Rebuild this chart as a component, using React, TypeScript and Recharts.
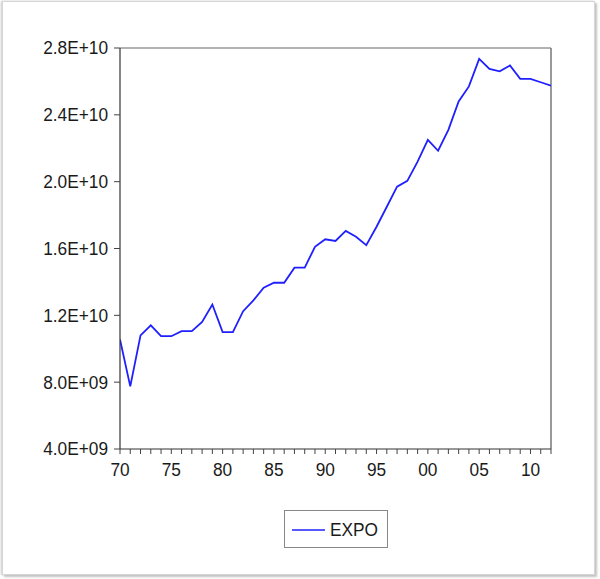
import React from "react";
import { LineChart, Line, XAxis, YAxis, ReferenceLine } from "recharts";

const years: number[] = [
  1970, 1971, 1972, 1973, 1974, 1975, 1976, 1977, 1978, 1979,
  1980, 1981, 1982, 1983, 1984, 1985, 1986, 1987, 1988, 1989,
  1990, 1991, 1992, 1993, 1994, 1995, 1996, 1997, 1998, 1999,
  2000, 2001, 2002, 2003, 2004, 2005, 2006, 2007, 2008, 2009,
  2010, 2011, 2012,
];

// EXPO, in units of 1e9
const expoBillions: number[] = [
  10.55, 7.75, 10.8, 11.4, 10.75, 10.75, 11.05, 11.05, 11.6, 12.65,
  11.0, 11.0, 12.25, 12.9, 13.65, 13.95, 13.95, 14.85, 14.85, 16.1,
  16.55, 16.45, 17.05, 16.7, 16.2, 17.3, 18.5, 19.7, 20.05, 21.2,
  22.5, 21.85, 23.1, 24.8, 25.7, 27.35, 26.75, 26.6, 26.95, 26.15,
  26.15, 25.95, 25.75,
];

const yTicks: number[] = [4e9, 8e9, 1.2e10, 1.6e10, 2.0e10, 2.4e10, 2.8e10];
const xTicks: number[] = years;
const xLabelYears: number[] = [1970, 1975, 1980, 1985, 1990, 1995, 2000, 2005, 2010];

const data = years.map((y, i) => ({ year: y, EXPO: expoBillions[i] * 1e9 }));

const FONT = "'Liberation Sans', Arial, Helvetica, sans-serif";
const SX = 0.96;

function fmtExp(v: number): string {
  const e = Math.floor(Math.log10(v) + 1e-9);
  const m = v / Math.pow(10, e);
  const es = e < 10 ? "0" + e : String(e);
  return m.toFixed(1) + "E+" + es;
}

const YTick = (props: any) => {
  const { x, y, payload } = props;
  const tx = x - 4;
  return (
    <g transform={`translate(${tx},${y}) scale(${SX},1)`}>
      <text x={0} y={0} dy="0.36em" textAnchor="end" fontSize={18} fontFamily={FONT} fill="#1a1a1a">
        {fmtExp(payload.value)}
      </text>
    </g>
  );
};

const XTick = (props: any) => {
  const { x, y, payload } = props;
  const v: number = payload.value;
  if (xLabelYears.indexOf(v) < 0) return <g />;
  const label = String(v % 100).padStart(2, "0");
  return (
    <g transform={`translate(${x},${y}) scale(${SX},1)`}>
      <text x={0} y={0} dy={20} textAnchor="middle" fontSize={18} fontFamily={FONT} fill="#1a1a1a">
        {label}
      </text>
    </g>
  );
};

export default function App() {
  return (
    <div style={{ position: "absolute", left: 0, top: 0, width: 600, height: 579, background: "#fff", overflow: "hidden" }}>
      <div
        style={{
          position: "absolute",
          left: 2,
          top: 1,
          width: 593,
          height: 574,
          border: "1px solid #d6d6d6",
          boxShadow: "2px 2px 2px #c4c4c4, -1px 0 2px #c8c8c8",
          boxSizing: "border-box",
        }}
      />
      <div style={{ position: "absolute", left: 0, top: 0 }}>
        <LineChart width={600} height={579} data={data} margin={{ top: 48, right: 49, left: 10, bottom: 90 }}>
          <XAxis
            dataKey="year"
            type="number"
            domain={[1970, 2012]}
            ticks={xTicks}
            interval={0}
            tick={<XTick />}
            tickSize={5}
            height={40}
            axisLine={{ stroke: "#333", strokeWidth: 1.2 }}
            tickLine={{ stroke: "#444" }}
            allowDataOverflow
          />
          <YAxis
            type="number"
            domain={[4e9, 2.8e10]}
            ticks={yTicks}
            interval={0}
            width={110}
            tick={<YTick />}
            tickSize={6}
            axisLine={{ stroke: "#333", strokeWidth: 1.2 }}
            tickLine={{ stroke: "#444" }}
            allowDataOverflow
          />
          <ReferenceLine y={2.8e10} stroke="#999" strokeWidth={1.5} />
          <ReferenceLine x={2012} stroke="#777" strokeWidth={1.5} />
          <Line
            type="linear"
            dataKey="EXPO"
            stroke="#2020ff"
            strokeWidth={1.8}
            dot={false}
            activeDot={false}
            isAnimationActive={false}
          />
        </LineChart>
      </div>
      <div
        style={{
          position: "absolute",
          left: 284,
          top: 510,
          width: 104,
          height: 38,
          border: "1px solid #888",
          boxSizing: "border-box",
          background: "#fff",
        }}
      >
        <svg width={102} height={36} style={{ position: "absolute", left: 0, top: 0 }}>
          <line x1={7} y1={19} x2={40} y2={19} stroke="#2020ff" strokeWidth={1.6} />
          <g transform={`translate(45,19) scale(${SX},1)`}>
            <text x={0} y={0} dy="0.36em" fontSize={18} fontFamily={FONT} fill="#1a1a1a">
              EXPO
            </text>
          </g>
        </svg>
      </div>
    </div>
  );
}
